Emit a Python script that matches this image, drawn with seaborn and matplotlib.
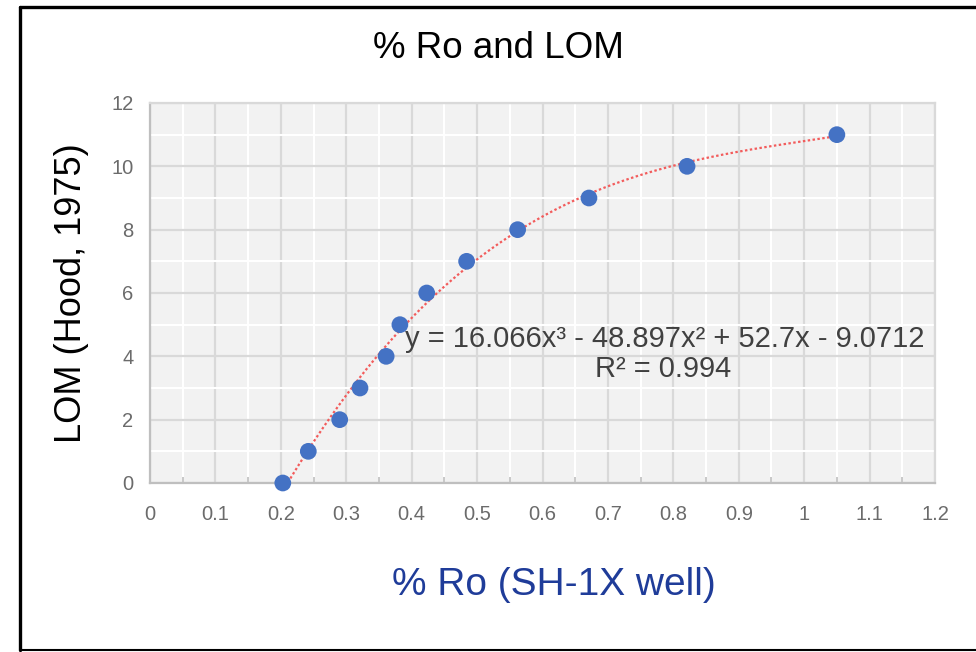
import numpy as np
import pandas as pd
import matplotlib
matplotlib.use("Agg")
import matplotlib.pyplot as plt
from matplotlib.lines import Line2D
from matplotlib.ticker import MultipleLocator
import seaborn as sns

# Vitrinite reflectance vs. level of organic metamorphism
ro_pct = [0.203, 0.242, 0.290, 0.321, 0.361, 0.382, 0.423, 0.484, 0.562, 0.671, 0.821, 1.05]
lom = [0, 1, 2, 3, 4, 5, 6, 7, 8, 9, 10, 11]

# Cubic trendline coefficients (a3, a2, a1, a0) and fit quality
poly_coef = [16.066, -48.897, 52.7, -9.0712]
r_squared = 0.994

x_ticks = [0, 0.1, 0.2, 0.3, 0.4, 0.5, 0.6, 0.7, 0.8, 0.9, 1, 1.1, 1.2]
x_tick_labels = ["0", "0.1", "0.2", "0.3", "0.4", "0.5", "0.6", "0.7", "0.8", "0.9", "1", "1.1", "1.2"]
y_ticks = [0, 2, 4, 6, 8, 10, 12]

sns.set_style("white")
plt.rcParams["font.family"] = ["Liberation Sans", "DejaVu Sans"]

W, H = 976, 652
fig = plt.figure(figsize=(W / 100, H / 100), dpi=100)
ax = fig.add_axes([150 / W, 1 - 483 / H, (935 - 150) / W, (483 - 103) / H])
ax.set_facecolor("#f2f2f2")

# trendline
df_pts = pd.DataFrame({"ro": ro_pct, "lom": lom})
xs = np.linspace(min(ro_pct), max(ro_pct), 400)
ys = np.polyval(poly_coef, xs)
df_fit = pd.DataFrame({"ro": xs, "lom": ys})
sns.lineplot(data=df_fit, x="ro", y="lom", ax=ax, color="#f25c5c",
             linewidth=1.6, linestyle=(0, (1.1, 1.1)), zorder=3)

sns.scatterplot(data=df_pts, x="ro", y="lom", ax=ax, color="#4472c4",
                s=145, edgecolor="none", zorder=4, clip_on=False)

ax.set_xlim(0, 1.2)
ax.set_ylim(0, 12)
ax.set_xticks(x_ticks)
ax.set_xticklabels(x_tick_labels)
ax.set_yticks(y_ticks)
ax.xaxis.set_minor_locator(MultipleLocator(0.05))
ax.yaxis.set_minor_locator(MultipleLocator(1))

ax.grid(which="minor", color="white", linewidth=1.5, zorder=0)
ax.grid(which="major", color="#d9d9d9", linewidth=1.6, zorder=1)
ax.set_axisbelow(True)

ax.tick_params(axis="both", which="major", length=0, labelsize=14.5,
               labelcolor="#6b6b6b")
ax.tick_params(axis="x", which="major", pad=16)
ax.tick_params(axis="y", which="major", pad=12)
ax.tick_params(axis="x", which="minor", direction="in", length=4,
               width=1.2, color="#bfbfbf", bottom=True)
ax.tick_params(axis="y", which="minor", length=0)

for side in ["left", "bottom"]:
    ax.spines[side].set_color("#bfbfbf")
    ax.spines[side].set_linewidth(1.6)
for side in ["top", "right"]:
    ax.spines[side].set_color("#d9d9d9")
    ax.spines[side].set_linewidth(1.6)

ax.set_xlabel("")
ax.set_ylabel("")

# equation and R² of the trendline
eq = "y = {:.3f}x³ - {:.3f}x² + {:.1f}x - {:.4f}".format(
    poly_coef[0], -poly_coef[1], poly_coef[2], -poly_coef[3])
fig.text(665 / W, 1 - 339 / H, eq, ha="center", va="center",
         fontsize=21, color="#404040")
fig.text(663 / W, 1 - 369 / H, "R² = {:.3f}".format(r_squared), ha="center",
         va="center", fontsize=21, color="#404040")

# titles
fig.text(498 / W, 1 - 48 / H, "% Ro and LOM", ha="center", va="center",
         fontsize=26.5, color="black")
fig.text(72 / W, 1 - 293 / H, "LOM (Hood, 1975)", ha="center", va="center",
         rotation=90, fontsize=26, color="black")
fig.text(554 / W, 1 - 585 / H, "% Ro (SH-1X well)", ha="center", va="center",
         fontsize=28, color="#1f3c99")

# outer frame
fig.add_artist(Line2D([20 / W, 20 / W], [1 - 650 / H, 1 - 7 / H],
                      transform=fig.transFigure, color="black", linewidth=2.4))
fig.add_artist(Line2D([20 / W, 1.0], [1 - 7 / H, 1 - 7 / H],
                      transform=fig.transFigure, color="black", linewidth=2.4))
fig.add_artist(Line2D([20 / W, 1.0], [1 - 650 / H, 1 - 650 / H],
                      transform=fig.transFigure, color="black", linewidth=1.5))

fig.savefig("out.png", dpi=100)
